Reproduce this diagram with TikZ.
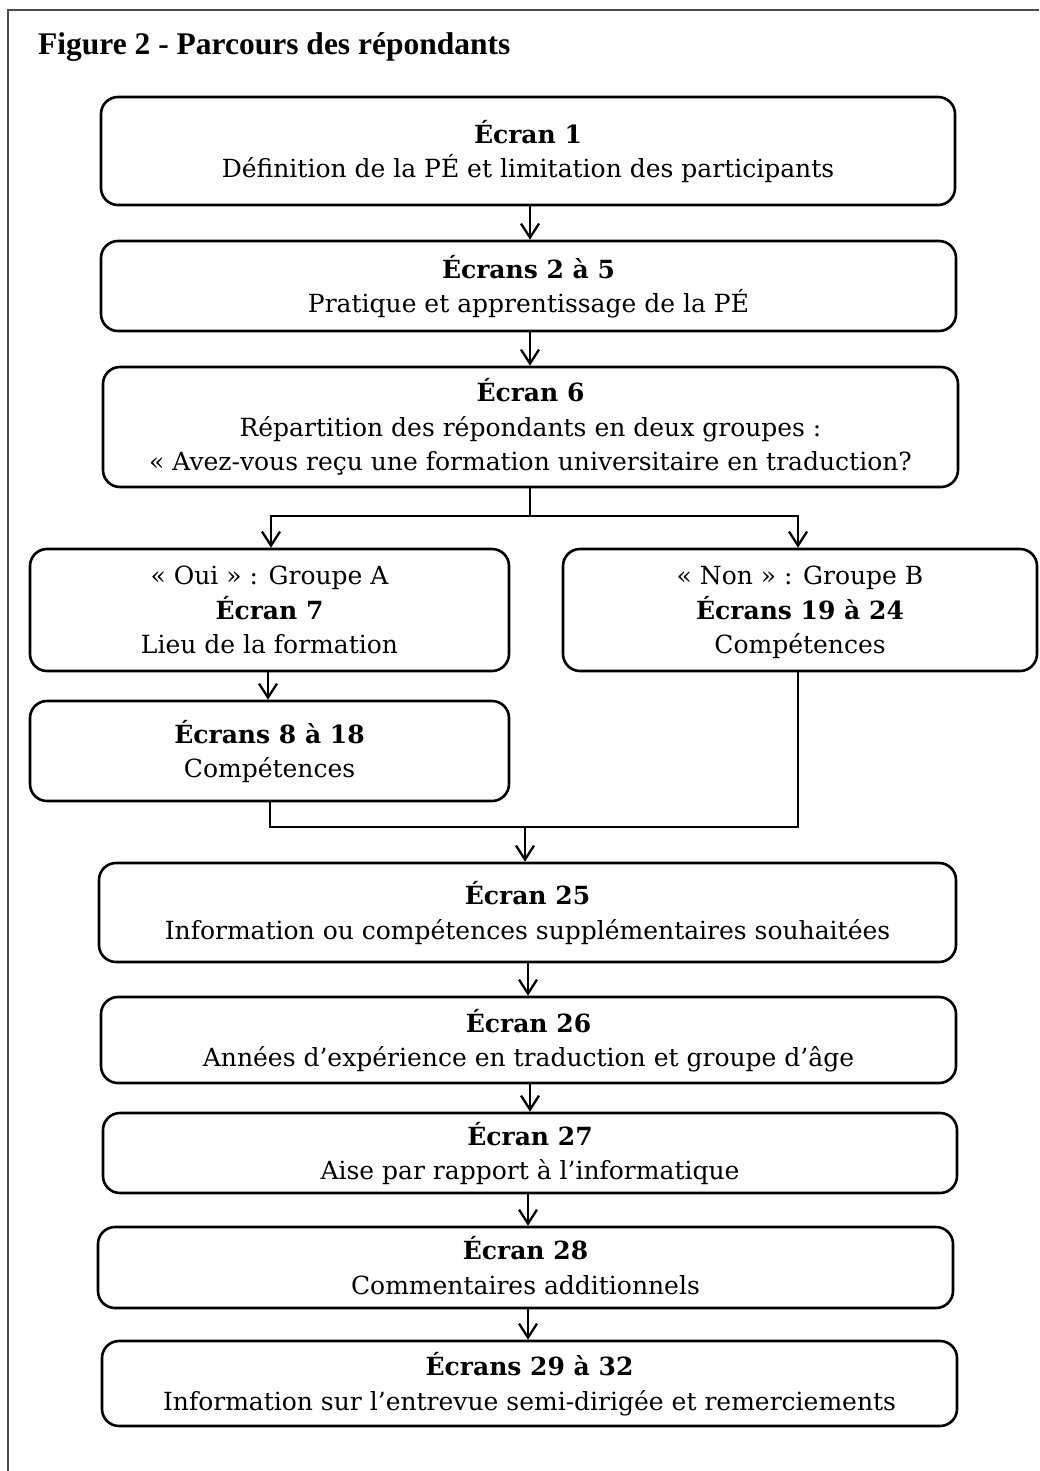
\documentclass[tikz,border=0pt]{standalone}
\usepackage{fontspec}
\setmainfont{DejaVu Serif}
\newfontfamily\titlefont{Liberation Serif}
\usetikzlibrary{arrows.meta}
\tikzset{
  box/.style={draw, line width=2.6pt, rounded corners=17pt, inner sep=0pt},
  txt/.style={inner sep=0pt, align=center, yshift=-3pt,
    font=\fontsize{25}{34.5}\selectfont, execute at begin node=\strut, execute at end node=\strut},
  arr/.style={line width=2.3pt, -{Straight Barb[length=14pt,width=18pt,line width=2.3pt]}},
  ln/.style={line width=2.3pt},
}
\begin{document}
\begin{tikzpicture}[x=1pt,y=-1pt]
\useasboundingbox (0,0) rectangle (1039,1471);
\draw[line width=1.5pt, black!70] (8,1471) -- (8,10) -- (1039,10);
\node[anchor=base west, inner sep=0pt, font=\titlefont\bfseries\fontsize{31.5}{36}\selectfont] (title) at (38,55) {Figure 2 - Parcours des répondants};

\node[box, minimum width=854pt, minimum height=108pt] (b1) at (528,151) {};
\node[txt] (t1) at (b1.center) {\textbf{Écran 1}\\Définition de la PÉ et limitation des participants};
\node[box, minimum width=855pt, minimum height=90pt] (b2) at (528.5,286) {};
\node[txt] (t2) at (b2.center) {\textbf{Écrans 2 à 5}\\Pratique et apprentissage de la PÉ};
\node[box, minimum width=855pt, minimum height=120pt] (b3) at (530.5,427) {};
\node[txt] (t3) at (b3.center) {\textbf{Écran 6}\\Répartition des répondants en deux groupes :\\« Avez-vous reçu une formation universitaire en traduction?};
\node[box, minimum width=479pt, minimum height=122pt] (bA) at (269.5,610) {};
\node[txt, yshift=-2pt] (tA) at (bA.center) {« Oui » : Groupe A\\\textbf{Écran 7}\\Lieu de la formation};
\node[box, minimum width=474pt, minimum height=122pt] (bB) at (800,610) {};
\node[txt, yshift=-2pt] (tB) at (bB.center) {« Non » : Groupe B\\\textbf{Écrans 19 à 24}\\Compétences};
\node[box, minimum width=479pt, minimum height=100pt] (bA2) at (269.5,751) {};
\node[txt] (tA2) at (bA2.center) {\textbf{Écrans 8 à 18}\\Compétences};
\node[box, minimum width=857pt, minimum height=99pt] (b25) at (527.5,912.5) {};
\node[txt] (t25) at (b25.center) {\textbf{Écran 25}\\Information ou compétences supplémentaires souhaitées};
\node[box, minimum width=855pt, minimum height=86pt] (b26) at (528.5,1040) {};
\node[txt] (t26) at (b26.center) {\textbf{Écran 26}\\Années d’expérience en traduction et groupe d’âge};
\node[box, minimum width=854pt, minimum height=80pt] (b27) at (530,1153) {};
\node[txt] (t27) at (b27.center) {\textbf{Écran 27}\\Aise par rapport à l’informatique};
\node[box, minimum width=855pt, minimum height=81pt] (b28) at (525.5,1267.5) {};
\node[txt] (t28) at (b28.center) {\textbf{Écran 28}\\Commentaires additionnels};
\node[box, minimum width=855pt, minimum height=85pt] (b29) at (529.5,1383.5) {};
\node[txt] (t29) at (b29.center) {\textbf{Écrans 29 à 32}\\Information sur l’entrevue semi-dirigée et remerciements};

\draw[arr] (b1.south -| 530,0) -- (b2.north -| 530,0);
\draw[arr] (b2.south -| 530,0) -- (b3.north -| 530,0);
\coordinate (split) at (530,516);
\draw[ln] (b3.south -| split) -- (split);
\draw[arr] (split) -| (bA.north -| 271,0);
\draw[arr] (split) -| (bB.north -| 798,0);
\draw[arr] (bA.south -| 268,0) -- (bA2.north -| 268,0);
\coordinate (merge) at (525,827);
\draw[ln] (bA2.south -| 270,0) |- (merge) -| (798,675) -- (bB.south -| 798,0);
\draw[arr] (merge) -- (b25.north -| merge);
\draw[arr] (b25.south -| 528,0) -- (b26.north -| 528,0);
\draw[arr] (b26.south -| 530,0) -- (b27.north -| 530,0);
\draw[arr] (b27.south -| 528,0) -- (b28.north -| 528,0);
\draw[arr] (b28.south -| 528,0) -- (b29.north -| 528,0);
\end{tikzpicture}
\end{document}
